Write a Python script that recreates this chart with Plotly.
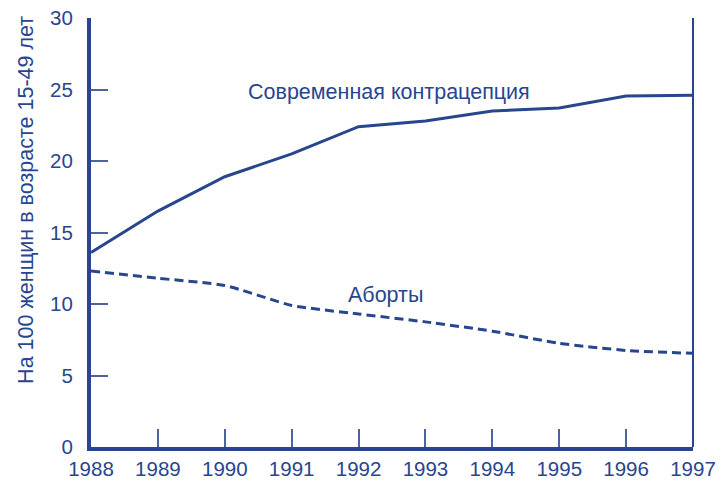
import plotly.graph_objects as go

years = [1988, 1989, 1990, 1991, 1992, 1993, 1994, 1995, 1996, 1997]
contraception = [13.6, 16.5, 18.9, 20.5, 22.4, 22.8, 23.5, 23.7, 24.55, 24.6]
abortions = [12.3, 11.8, 11.3, 9.9, 9.3, 8.75, 8.1, 7.25, 6.75, 6.55]
y_ticks = [0, 5, 10, 15, 20, 25, 30]
y_title = "На 100 женщин в возрасте 15-49 лет"
label_contr = "Современная контрацепция"
label_abort = "Аборты"

BLUE = "#28468e"
TICK = "#4d64a0"
FONT = "Liberation Sans, Arial, sans-serif"

fig = go.Figure()
fig.add_trace(go.Scatter(x=years, y=contraception, mode="lines",
                         line=dict(color=BLUE, width=3), showlegend=False, cliponaxis=False))
fig.add_trace(go.Scatter(x=years, y=abortions, mode="lines",
                         line=dict(color=BLUE, width=3, dash="9px,5px", shape="spline", smoothing=0.5),
                         showlegend=False, cliponaxis=False))

fig.add_annotation(x=1992.45, y=24.8, text=label_contr, showarrow=False,
                   font=dict(family=FONT, size=21.5, color=BLUE))
fig.add_annotation(x=1992.41, y=10.6, text=label_abort, showarrow=False,
                   font=dict(family=FONT, size=21.5, color=BLUE))
# y-axis title (placed slightly above the axis centre, as in the reference)
fig.add_annotation(xref="paper", yref="paper", x=-0.108, y=0.576, text=y_title,
                   textangle=-90, showarrow=False, xanchor="center", yanchor="middle",
                   font=dict(family=FONT, size=21.5, color=BLUE))

# thin right border
fig.add_shape(type="line", xref="paper", yref="paper", x0=1, x1=1, y0=0, y1=1,
              line=dict(color=BLUE, width=2))

fig.update_layout(
    width=727, height=484,
    margin=dict(l=91, r=34, t=18, b=37),
    paper_bgcolor="white", plot_bgcolor="white",
    font=dict(family=FONT, size=20, color=BLUE),
)
fig.update_xaxes(range=[1988, 1997], tickvals=years, ticktext=[str(y) for y in years],
                 showgrid=False, zeroline=False, showline=True, linewidth=4, linecolor=BLUE,
                 ticks="inside", ticklen=18, tickwidth=1.5, tickcolor=TICK, automargin=False,
                 tickfont=dict(family=FONT, size=20.5, color=BLUE))
fig.update_yaxes(range=[0, 30], tickvals=y_ticks, showgrid=False, zeroline=False,
                 showline=True, linewidth=4, linecolor=BLUE, automargin=False,
                 ticks="inside", ticklen=17, tickwidth=1.5, tickcolor=TICK,
                 ticklabelstandoff=10,
                 tickfont=dict(family=FONT, size=20.5, color=BLUE))

fig.write_html("out.html", config={"displayModeBar": False},
               post_script="document.body.style.margin='0';document.body.style.overflow='hidden';")
